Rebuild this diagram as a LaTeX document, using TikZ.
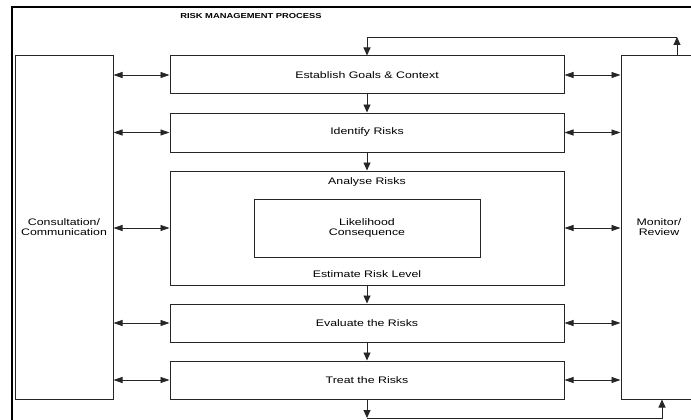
\documentclass[tikz,border=0pt]{standalone}
\usepackage{fontspec}
\setmainfont{Liberation Sans}[FakeStretch=1.3]
\usetikzlibrary{arrows.meta}

\begin{document}
\begin{tikzpicture}[x=1pt, y=-1pt,
        every node/.style={font=\fontsize{9.5}{10}\selectfont, align=center, inner sep=0pt},
        stagebox/.style={draw=black!85, line width=1pt, minimum width=394pt},
        sidebox/.style={draw=black!85, line width=1pt, minimum height=343pt},
        flow/.style={black!85, line width=0.9pt, -{Triangle[length=8pt,width=7pt]}},
        link/.style={black!85, line width=0.8pt, {Triangle[length=9pt,width=6pt]}-{Triangle[length=9pt,width=6pt]}}]
        \clip (0,0) rectangle (691,420);
        \fill[white] (0,0) rectangle (691,420);

        \draw[black, line width=1.8pt] (12,7) rectangle (720,440);
        \node[font=\bfseries\fontsize{7.2}{8}\selectfont] (title) at (251,16) {RISK MANAGEMENT PROCESS};

        %\draw[gray] (170,56) rectangle (564,399);

        \node[sidebox, minimum width=98pt] (comm) at (64,227.5) {Consultation/\\Communication};
        \node[sidebox, minimum width=76pt] (monitor) at (659,227.5) {Monitor/\\Review};

        \node[stagebox, minimum height=38pt] (goals) at (367,75) {Establish Goals \& Context};
        \node[stagebox, minimum height=39pt] (ident) at (367,132.5) {Identify Risks};
        \node[stagebox, minimum height=114pt] (analyse) at (367,228) {};
        \node (analysetxt) at (367,182) {Analyse Risks};
        \node[draw=black!85, line width=1pt, minimum width=226pt, minimum height=58pt] (likely) at (367,228) {Likelihood\\Consequence};
        \node (level) at (367,274) {Estimate Risk Level};
        \node[stagebox, minimum height=38pt] (eval) at (367,323) {Evaluate the Risks};
        \node[stagebox, minimum height=38pt] (treat) at (367,380) {Treat the Risks};

        \foreach \s in {goals, ident, analyse, eval, treat} {
            \draw[link] (comm.east |- \s) -- (\s.west);
            \draw[link] (\s.east) -- (monitor.west |- \s);
        }

        \draw[flow] (goals.south) -- (ident.north);
        \draw[flow] (ident.south) -- (analyse.north);
        \draw[flow] (analyse.south) -- (eval.north);
        \draw[flow] (eval.south) -- (treat.north);

        % review loops
        \coordinate (topR) at (677,37);
        \coordinate (topL) at (367,37);
        \coordinate (botL) at (367,418);
        \coordinate (botR) at (662,418);
        \draw[flow] (monitor.north -| topR) -- (topR);
        \draw[flow] (topR) -- (topL) -- (goals.north);
        \draw[flow] (treat.south) -- (botL);
        \draw[flow] (botL) -- (botR) -- (monitor.south -| botR);
    \end{tikzpicture}
\end{document}
